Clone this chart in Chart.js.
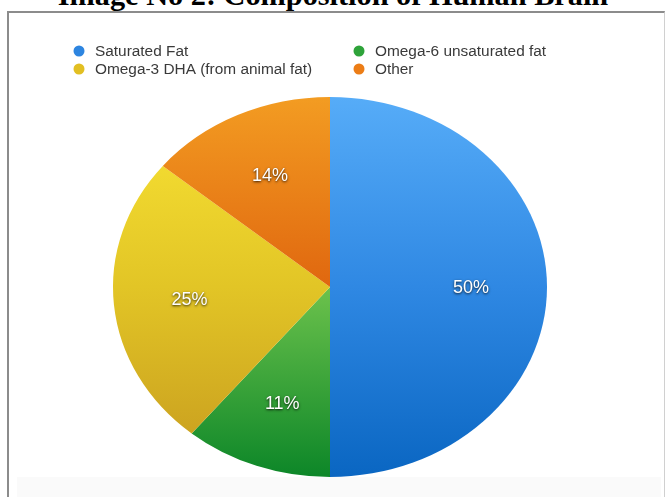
<!DOCTYPE html>
<html>
<head>
<meta charset="utf-8">
<script src="https://cdn.jsdelivr.net/npm/chart.js@4"></script>
<style>
  body { margin: 0; width: 666px; height: 497px; overflow: hidden; background: #fff; position: relative; }
  #title {
    position: absolute; left: 0; width: 666px; top: -20px;
    text-align: center; font: bold 30.3px/30px "Liberation Serif", "Times New Roman", serif;
    color: #000; white-space: nowrap;
  }
  #frame {
    position: absolute; left: 7px; top: 11px; width: 655px; height: 490px;
    border-left: 2px solid #8c8c8c; border-top: 2px solid #8c8c8c; border-right: 1px solid #d0d0d0;
  }
  #band { position: absolute; left: 17px; top: 477px; width: 644px; height: 20px; background: #fafafa; }
  #myChart { position: absolute; left: 0; top: 0; }
</style>
</head>
<body>
<div id="title">Image No 2: Composition of Human Brain</div>
<div id="frame"></div>
<div id="band"></div>
<canvas id="myChart" width="666" height="497"></canvas>
<script>
const labels = ['Saturated Fat', 'Omega-6 unsaturated fat', 'Omega-3 DHA (from animal fat)', 'Other'];
const values = [50, 11, 25, 14];
const percentLabels = ['50%', '11%', '25%', '14%'];
const legendDots = ['#2d85e0', '#2ea33a', '#e2bf22', '#ec7d16'];
// gradient stops top -> middle -> bottom of the pie
const sliceGradients = [
  ['#56acf8', '#2f88e3', '#0a66c2'],
  ['#8fd062', '#6cc24c', '#0c8628'],
  ['#fae535', '#e2c526', '#c69a1e'],
  ['#f39c22', '#e0670f', '#d05a08']
];

// pie is drawn wider than tall in the picture
const stretchX = 217 / 190;

const ellipsePlugin = {
  id: 'ellipse',
  beforeDatasetsDraw(chart) {
    const meta = chart.getDatasetMeta(0).data[0];
    const ctx = chart.ctx;
    ctx.save();
    ctx.translate(meta.x, meta.y);
    ctx.scale(stretchX, 1);
    ctx.translate(-meta.x, -meta.y);
  },
  afterDatasetsDraw(chart) {
    chart.ctx.restore();
  }
};

const sliceLabels = {
  id: 'sliceLabels',
  afterDraw(chart) {
    const ctx = chart.ctx;
    const arcs = chart.getDatasetMeta(0).data;
    ctx.save();
    ctx.font = '18px "Liberation Sans", Arial, sans-serif';
    ctx.textAlign = 'center';
    ctx.textBaseline = 'middle';
    ctx.fillStyle = '#ffffff';
    ctx.shadowColor = 'rgba(0,0,0,0.85)';
    ctx.shadowBlur = 2.5;
    ctx.shadowOffsetY = 1;
    arcs.forEach((arc, i) => {
      const mid = (arc.startAngle + arc.endAngle) / 2;
      const r = arc.outerRadius * 0.65;
      ctx.fillText(percentLabels[i], arc.x + Math.cos(mid) * r * stretchX, arc.y + Math.sin(mid) * r + 1);
    });
    ctx.restore();
  }
};

// two column legend, filled row by row
const gridLegend = {
  id: 'gridLegend',
  afterDraw(chart) {
    const ctx = chart.ctx;
    const colX = [79, 359];
    const rowY = [51, 69];
    ctx.save();
    ctx.font = '15.4px "Liberation Sans", Arial, sans-serif';
    ctx.textBaseline = 'middle';
    labels.forEach((label, i) => {
      const x = colX[i % 2];
      const y = rowY[Math.floor(i / 2)];
      ctx.fillStyle = legendDots[i];
      ctx.beginPath();
      ctx.arc(x, y, 5.5, 0, Math.PI * 2);
      ctx.fill();
      ctx.fillStyle = '#3a3a3a';
      ctx.fillText(label, x + 16, y + 1);
    });
    ctx.restore();
  }
};

function sliceFill(context) {
  const stops = sliceGradients[context.dataIndex];
  const area = context.chart.chartArea;
  if (!area) return stops[1];
  const g = context.chart.ctx.createLinearGradient(0, area.top, 0, area.bottom);
  g.addColorStop(0, stops[0]);
  g.addColorStop(0.5, stops[1]);
  g.addColorStop(1, stops[2]);
  return g;
}

new Chart(document.getElementById('myChart'), {
  type: 'pie',
  data: {
    labels: labels,
    datasets: [{
      data: values,
      backgroundColor: sliceFill,
      borderWidth: 0
    }]
  },
  options: {
    responsive: false,
    animation: false,
    devicePixelRatio: 1,
    layout: { padding: { top: 97, bottom: 20, left: 0, right: 6 } },
    plugins: {
      legend: { display: false },
      tooltip: { enabled: false }
    }
  },
  plugins: [ellipsePlugin, sliceLabels, gridLegend]
});
</script>
</body>
</html>
